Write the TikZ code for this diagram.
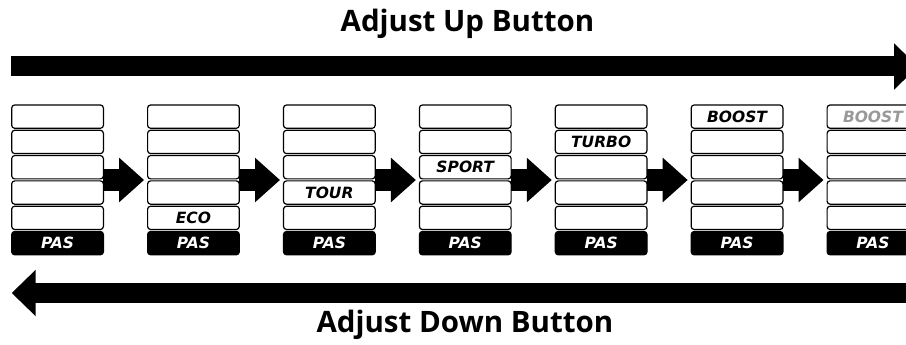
\documentclass[tikz,border=0pt]{standalone}
\usepackage{fontspec}
\setmainfont{DejaVu Sans}
\newfontfamily\titlefont{Open Sans}
\usetikzlibrary{arrows.meta}

\tikzset{
  slot/.style={draw, line width=1.2pt, rounded corners=3pt, fill=white,
    minimum width=91.7pt, minimum height=23.3pt, inner sep=0pt, outer sep=0pt},
  pasbox/.style={slot, fill=black},
  mode/.style={font=\fontsize{15.5}{15.5}\selectfont\bfseries\itshape, inner sep=0pt},
  steparrow/.style={line width=22pt, -{Triangle[length=25pt,width=43pt]}, shorten >=3.5pt},
  bigarrow/.style={line width=20pt, -{Triangle[length=24pt,width=45pt]}},
  title/.style={font=\titlefont\fontsize{29.5}{29.5}\selectfont\bfseries, anchor=base}
}

\begin{document}
\begin{tikzpicture}[x=1pt, y=1pt]
  \clip (0,0) rectangle (906,345);

  % one column of slots per assist level
  \foreach \c in {0,...,6} {
    \foreach \r in {0,...,4}
      \node[slot] (s\c-\r) at ({57.55+135.9*\c},{228.35-25.3*\r}) {};
    \node[pasbox] (p\c) at ({57.55+135.9*\c},{228.35-126.5}) {};
    \node[mode, text=white] (pas\c) at (p\c) {PAS};
    \coordinate (in\c) at ({11.7+135.9*\c},165);
    \coordinate (out\c) at ({103.4+135.9*\c},165);
  }

  \node[mode] (eco) at (s1-4) {ECO};
  \node[mode] (tour) at (s2-3) {TOUR};
  \node[mode] (sport) at (s3-2) {SPORT};
  \node[mode] (turbo) at (s4-1) {TURBO};
  \node[mode] (boost) at (s5-0) {BOOST};
  \node[mode, text=black!40] (boostnext) at (s6-0) {BOOST};

  \foreach \c [count=\d from 1] in {0,...,5}
    \draw[steparrow] (out\c) -- (in\d);

  % up and down
  \coordinate (upstart) at (11,278.5);
  \coordinate (upend) at (918,278.5);
  \draw[bigarrow] (upstart) -- (upend);
  \node[title] (uptitle) at (467.5,313) {Adjust Up Button};

  \coordinate (downstart) at (912,52);
  \coordinate (downend) at (11.7,52);
  \draw[bigarrow] (downstart) -- (downend);
  \node[title] (downtitle) at (465,12) {Adjust Down Button};
\end{tikzpicture}
\end{document}
